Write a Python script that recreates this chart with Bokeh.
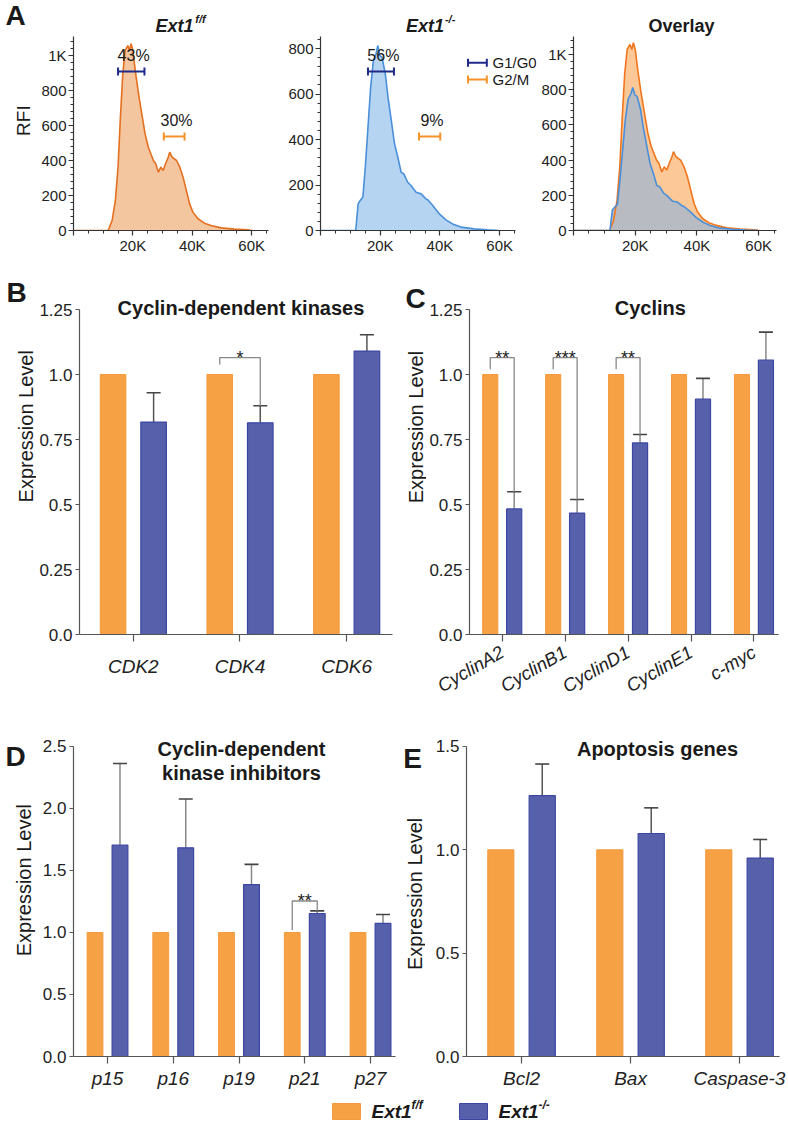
import math
from bokeh.plotting import figure
from bokeh.models import Range1d, FixedTicker, Label, Whisker, TeeHead, ColumnDataSource
from bokeh.layouts import column, row
from bokeh.embed import file_html
from bokeh.resources import INLINE
from bokeh.core.properties import value

FONT = "Liberation Sans"

# ---------------- data ----------------
# Panel A: DNA content histograms (x in thousands, y = RFI)
ff_dna_k = [0, 11.7, 13.0, 14.1, 15.0, 15.8, 16.6, 17.4, 18.3, 18.9, 19.4, 20.0, 20.8, 21.9,
            23.0, 24.1, 25.2, 26.9, 27.7, 28.6, 29.4, 30.2, 31.0, 31.9, 32.4, 33.2, 34.7,
            35.8, 36.9, 38.0, 39.1, 40.2, 41.9, 44.1, 46.3, 49.7, 54.1, 58.6, 60.2]
ff_rfi = [0, 0, 57, 171, 362, 648, 895, 1029, 1057, 1029, 1067, 1029, 914, 781,
          667, 552, 476, 400, 381, 333, 362, 343, 381, 419, 448, 419, 400,
          362, 305, 229, 152, 105, 67, 42, 29, 15, 8, 4, 0]
ko_dna_k = [0, 11.8, 12.6, 13.3, 14.2, 15.0, 15.9, 16.8, 17.7, 18.6, 19.2, 19.9, 20.6, 21.7,
            22.6, 23.7, 24.8, 25.9, 27.0, 27.9, 29.2, 30.3, 32.0, 33.7, 35.3, 35.9, 37.6,
            39.8, 42.0, 44.2, 47.0, 51.4, 55.9, 59.8]
ko_rfi = [0, 0, 117, 132, 147, 278, 454, 630, 747, 777, 813, 769, 762, 689,
          586, 484, 381, 322, 256, 249, 212, 198, 168, 161, 139, 135, 110,
          73, 47, 29, 15, 7, 3, 0]

phase_names = ["G1/G0", "G2/M"]
ff_gate_pct = ["43%", "30%"]
ff_gate_x0_k = [15.0, 30.4]
ff_gate_x1_k = [23.9, 37.4]
ff_gate_y = [909, 537]
ko_gate_pct = ["56%", "9%"]
ko_gate_x0_k = [15.9, 33.0]
ko_gate_x1_k = [24.6, 40.1]
ko_gate_y = [699, 413]

# Panel B
cdk_genes = ["CDK2", "CDK4", "CDK6"]
cdk_ff = [1.0, 1.0, 1.0]
cdk_ko = [0.817, 0.814, 1.090]
cdk_ko_err = [0.113, 0.066, 0.063]
cdk_sig_idx = [1]
cdk_sig_text = ["*"]
cdk_sig_level = [1.065]
cdk_sig_left = [1.038]

# Panel C
cyc_genes = ["CyclinA2", "CyclinB1", "CyclinD1", "CyclinE1", "c-myc"]
cyc_ff = [1.0, 1.0, 1.0, 1.0, 1.0]
cyc_ko = [0.483, 0.467, 0.737, 0.905, 1.055]
cyc_ko_err = [0.066, 0.052, 0.032, 0.080, 0.108]
cyc_sig_idx = [0, 1, 2]
cyc_sig_text = ["**", "***", "**"]
cyc_sig_level = [1.065, 1.065, 1.065]
cyc_sig_left = [1.02, 1.02, 1.02]

# Panel D
cki_genes = ["p15", "p16", "p19", "p21", "p27"]
cki_ff = [1.0, 1.0, 1.0, 1.0, 1.0]
cki_ko = [1.704, 1.683, 1.386, 1.153, 1.073]
cki_ko_err = [0.658, 0.393, 0.163, 0.021, 0.072]
cki_sig_idx = [3]
cki_sig_text = ["**"]
cki_sig_level = [1.254]
cki_sig_left = [1.02]

# Panel E
apo_genes = ["Bcl2", "Bax", "Caspase-3"]
apo_ff = [1.0, 1.0, 1.0]
apo_ko = [1.262, 1.079, 0.960]
apo_ko_err = [0.153, 0.124, 0.090]

# ---------------- style ----------------
ORANGE = "#F7A145"
ORANGE_EDGE = "#F39A3C"
BLUE = "#5760AB"
BLUE_EDGE = "#3C47A3"
TXT = "#1a1a1a"
AX = "#555555"
OFF = 0.19
BW = 0.24


def geom(l, r, t, b, xr, yr):
    return dict(l=l, r=r, t=t, b=b, x0=xr[0], x1=xr[1], y0=yr[0], y1=yr[1])


def to_data(g, xref, yref):
    x = g["x0"] + (xref - g["l"]) / (g["r"] - g["l"]) * (g["x1"] - g["x0"])
    y = g["y0"] + (g["b"] - yref) / (g["b"] - g["t"]) * (g["y1"] - g["y0"])
    return x, y


def base_fig(g, fx0, fx1, ry0, ry1, axes=True):
    kw = {}
    if not axes:
        kw = dict(x_axis_location=None, y_axis_location=None)
    p = figure(width=fx1 - fx0, height=ry1 - ry0,
               x_range=Range1d(g["x0"], g["x1"]), y_range=Range1d(g["y0"], g["y1"]),
               min_border_left=g["l"] - fx0, min_border_right=fx1 - g["r"],
               min_border_top=g["t"] - ry0, min_border_bottom=ry1 - g["b"],
               output_backend="svg", toolbar_location=None, title=None, **kw)
    p.xgrid.visible = False
    p.ygrid.visible = False
    p.outline_line_color = None
    p.border_fill_color = "white"
    p.background_fill_color = "white"
    return p


def gutter(fx0, fx1, ry0, ry1):
    g = geom(fx0, fx1, ry0, ry1, (fx0, fx1), (ry1, ry0))
    return base_fig(g, fx0, fx1, ry0, ry1, axes=False), g


def put(p, g, xr, yr, text, size, style="normal", align="center", baseline="middle",
        angle=0.0, color=TXT):
    x, y = to_data(g, xr, yr)
    p.add_layout(Label(x=x, y=y, text=text, text_font=FONT, text_font_size=f"{size}px",
                       text_font_style=style, text_align=align, text_baseline=baseline,
                       angle=angle, text_color=color))


def style_axis(ax, ticks, labels, size, minor=None, style="normal", tick_out=5, standoff=4,
               color=AX, bounds=None):
    ax.ticker = FixedTicker(ticks=ticks, minor_ticks=minor or [])
    ax.major_label_overrides = {t: l for t, l in zip(ticks, labels)}
    if bounds is not None:
        ax.bounds = bounds
    ax.axis_line_color = color
    ax.axis_line_width = 1.2
    ax.major_tick_line_color = color
    ax.major_tick_line_width = 1.2
    ax.minor_tick_line_color = color
    ax.major_tick_in = 0
    ax.major_tick_out = tick_out
    ax.minor_tick_in = 0
    ax.minor_tick_out = 3
    ax.major_label_text_font = FONT
    ax.major_label_text_font_size = f"{size}px"
    ax.major_label_text_font_style = style
    ax.major_label_text_color = "#222222"
    ax.major_label_standoff = standoff


# ---------------- Panel A ----------------
ROW_A = (0, 270)
# frames extend to the top of the row so in-frame titles are not clipped;
# axis bounds keep the drawn axes at the reference extent
gA1 = geom(71, 268, 0, 230, (0, 65667), (0, 230 / 0.175))
gA2 = geom(319, 536, 0, 230, (0, 217 / 3 * 1000), (0, 230 / 0.2275))
gA3 = geom(571, 776, 0, 230, (0, 205 / 3.117 * 1000), (0, 230 / 0.176))

ff_x = [v * 1000 for v in ff_dna_k]
ko_x = [v * 1000 for v in ko_dna_k]

x_major = [0, 20000, 40000, 60000]
x_lab = ["", "20K", "40K", "60K"]
x_minor = [k * 5000 for k in range(14) if (k * 5000) % 20000]


def hist_axes(p, ymax, ytop, xtop):
    yt = list(range(0, ymax + 1, 200))
    yl = ["1K" if t == 1000 else str(t) for t in yt]
    ym = [k * 40 for k in range(0, int(ytop) // 40 + 1) if (k * 40) % 200]
    style_axis(p.xaxis[0], x_major, x_lab, 15, minor=x_minor, tick_out=5, standoff=1,
               color="#333", bounds=(0, xtop))
    style_axis(p.yaxis[0], yt, yl, 15, minor=ym, tick_out=5, standoff=2, color="#333",
               bounds=(0, ytop))


def gate_whiskers(p, x0k, x1k, ys, colors):
    for i, c in enumerate(colors):
        s = ColumnDataSource(dict(x0=[x0k[i] * 1000], x1=[x1k[i] * 1000], y=[ys[i]]))
        p.add_layout(Whisker(source=s, base="y", lower="x0", upper="x1", dimension="width",
                             line_color=c, line_width=2,
                             lower_head=TeeHead(size=8, line_color=c, line_width=2),
                             upper_head=TeeHead(size=8, line_color=c, line_width=2),
                             level="overlay"))


G_NAVY = "#1F2A8A"
G_ORANGE = "#F5922A"

ga, gga = gutter(0, 38, *ROW_A)
put(ga, gga, 15, 18, "A", 28, "bold")
put(ga, gga, 23, 141, "RFI", 19, angle=math.pi / 2)

a1 = base_fig(gA1, 38, 285, *ROW_A)
a1.varea(x=ff_x, y1=0, y2=ff_rfi, fill_color="#F3C6A0")
a1.line(ff_x, ff_rfi, line_color="#E46F1F", line_width=1.6)
hist_axes(a1, 1000, 1108, 65667)
gate_whiskers(a1, ff_gate_x0_k, ff_gate_x1_k, ff_gate_y, [G_NAVY, G_ORANGE])
for i, t in enumerate(ff_gate_pct):
    cx = (ff_gate_x0_k[i] + ff_gate_x1_k[i]) / 2 * 1000 + 800
    a1.add_layout(Label(x=cx, y=ff_gate_y[i] + 45, text=t, text_font=FONT, text_font_size="16px",
                        text_align="center", text_baseline="bottom", text_color=TXT))
put(a1, gA1, 173, 25, "Ext1", 18, "bold italic", align="center", baseline="alphabetic")
put(a1, gA1, 194, 18, "f/f", 11, "bold italic", align="left", baseline="alphabetic")

a2 = base_fig(gA2, 285, 538, *ROW_A)
a2.varea(x=ko_x, y1=0, y2=ko_rfi, fill_color="#B5D4F1")
a2.line(ko_x, ko_rfi, line_color="#4A8FDA", line_width=1.6)
hist_axes(a2, 800, 852, 65333)
gate_whiskers(a2, ko_gate_x0_k, ko_gate_x1_k, ko_gate_y, [G_NAVY, G_ORANGE])
for i, t in enumerate(ko_gate_pct):
    cx = (ko_gate_x0_k[i] + ko_gate_x1_k[i]) / 2 * 1000 + 800
    a2.add_layout(Label(x=cx, y=ko_gate_y[i] + 35, text=t, text_font=FONT, text_font_size="16px",
                        text_align="center", text_baseline="bottom", text_color=TXT))
leg_y = [737, 664]
gate_whiskers(a2, [49.4, 49.4], [55.7, 55.7], leg_y, [G_NAVY, G_ORANGE])
for i, nm in enumerate(phase_names):
    a2.add_layout(Label(x=57600, y=leg_y[i], text=nm, text_font=FONT, text_font_size="15px",
                        text_align="left", text_baseline="middle", text_color=TXT))
put(a2, gA2, 424, 25, "Ext1", 18, "bold italic", align="center", baseline="alphabetic")
put(a2, gA2, 444, 18, "-/-", 11, "bold italic", align="left", baseline="alphabetic")

a3 = base_fig(gA3, 538, 788, *ROW_A)
a3.varea(x=ff_x, y1=0, y2=ff_rfi, fill_color="#FCC898")
a3.varea(x=ko_x, y1=0, y2=ko_rfi, fill_color="#B8BBC1")
a3.line(ff_x, ff_rfi, line_color="#F0761E", line_width=1.6)
a3.line(ko_x, ko_rfi, line_color="#4A8FDA", line_width=1.6)
hist_axes(a3, 1000, 1102, 65770)
put(a3, gA3, 680, 25, "Overlay", 18, "bold", align="center", baseline="alphabetic")


# ---------------- bar panels ----------------
def bar_panel(g, fx0, fx1, ry0, ry1, genes, ff, ko, err, yticks, ylabels,
              sig_idx, sig_text, sig_level, sig_left, rotate=0.0, err_color="#555555",
              xlab_standoff=6, xlab_size=19):
    p = base_fig(g, fx0, fx1, ry0, ry1)
    idx = list(range(len(genes)))
    src = dict(x_ff=[i - OFF for i in idx], x_ko=[i + OFF for i in idx], ff=ff, ko=ko,
               top=[k + e for k, e in zip(ko, err)])
    src = ColumnDataSource(src)
    p.vbar(x="x_ff", top="ff", bottom=0, width=BW, source=src, fill_color=ORANGE,
           line_color=ORANGE_EDGE, line_width=1)
    p.vbar(x="x_ko", top="ko", bottom=0, width=BW, source=src, fill_color=BLUE,
           line_color=BLUE_EDGE, line_width=1.2)
    p.add_layout(Whisker(source=src, base="x_ko", lower="ko", upper="top", dimension="height",
                         line_color=err_color, line_width=1.5, lower_head=None,
                         upper_head=TeeHead(size=14, line_color="#444444", line_width=1.6)))
    xs, ys, tx, ty = [], [], [], []
    for j, i in enumerate(sig_idx):
        xl, xr_ = i - OFF, i + OFF
        xs.append([xl, xl, xr_, xr_])
        ys.append([sig_left[j], sig_level[j], sig_level[j], ko[i] + err[i]])
        tx.append((xl + xr_) / 2)
        ty.append(sig_level[j])
    if xs:
        p.multi_line(xs, ys, line_color="#888888", line_width=1.3)
        p.text(tx, ty, text=sig_text, text_font=value(FONT), text_font_size="18px",
               text_align="center", text_baseline="alphabetic", text_color=TXT)
    style_axis(p.xaxis[0], idx, genes, xlab_size, style="italic", tick_out=7,
               standoff=xlab_standoff)
    if rotate:
        p.xaxis[0].major_label_orientation = rotate
    style_axis(p.yaxis[0], yticks, ylabels, 17, tick_out=4, standoff=3,
               bounds=(yticks[0], yticks[-1]))
    return p


ROW_BC = (270, 712)
gB = geom(78, 392, 280, 634, (-0.505, 2.43), (0, (634 - 280) / 260))
gC = geom(467, 778, 280, 634, (-0.52, 4.39), (0, (634 - 280) / 260))
yt_bc = [0, 0.25, 0.5, 0.75, 1.0, 1.25]
yl_bc = ["0.0", "0.25", "0.5", "0.75", "1.0", "1.25"]

gb, ggb = gutter(0, 36, *ROW_BC)
put(gb, ggb, 16, 285, "B", 28, "bold")
put(gb, ggb, 25, 452, "Expression Level", 20, angle=math.pi / 2)

pb = bar_panel(gB, 36, 400, *ROW_BC, cdk_genes, cdk_ff, cdk_ko, cdk_ko_err, yt_bc, yl_bc,
               cdk_sig_idx, cdk_sig_text, cdk_sig_level, cdk_sig_left, xlab_standoff=14)
put(pb, gB, 240, 307, "Cyclin-dependent kinases", 20, "bold")

gc, ggc = gutter(400, 426, *ROW_BC)
put(gc, ggc, 415, 293, "C", 28, "bold")
put(gc, ggc, 415, 453, "Expression Level", 20, angle=math.pi / 2)

pc = bar_panel(gC, 426, 788, *ROW_BC, cyc_genes, cyc_ff, cyc_ko, cyc_ko_err, yt_bc, yl_bc,
               cyc_sig_idx, cyc_sig_text, cyc_sig_level, cyc_sig_left, rotate=math.pi / 6,
               err_color="#888888", xlab_standoff=9, xlab_size=18.5)
put(pc, gC, 649, 307, "Cyclins", 20, "bold")

ROW_DE = (712, 1091)
gD = geom(73, 395, 730, 1057, (-0.517, 4.38), (0, (1057 - 730) / 124.4))
gE = geom(466, 779, 730, 1057, (-0.505, 2.367), (0, (1057 - 730) / 207.33))

gd, ggd = gutter(0, 36, *ROW_DE)
put(gd, ggd, 15, 742, "D", 28, "bold")
put(gd, ggd, 23, 886, "Expression Level", 20, angle=math.pi / 2)

pd = bar_panel(gD, 36, 400, *ROW_DE, cki_genes, cki_ff, cki_ko, cki_ko_err,
               [0, 0.5, 1.0, 1.5, 2.0, 2.5], ["0.0", "0.5", "1.0", "1.5", "2.0", "2.5"],
               cki_sig_idx, cki_sig_text, cki_sig_level, cki_sig_left, err_color="#888888",
               xlab_standoff=4)
put(pd, gD, 241, 749, "Cyclin-dependent", 20, "bold")
put(pd, gD, 241, 773, "kinase inhibitors", 20, "bold")

ge, gge = gutter(400, 425, *ROW_DE)
put(ge, gge, 412, 744, "E", 28, "bold")
put(ge, gge, 414, 902, "Expression Level", 20, angle=math.pi / 2)

pe = bar_panel(gE, 425, 788, *ROW_DE, apo_genes, apo_ff, apo_ko, apo_ko_err,
               [0, 0.5, 1.0, 1.5], ["0.0", "0.5", "1.0", "1.5"],
               [], [], [], [], xlab_standoff=4)
put(pe, gE, 657, 749, "Apoptosis genes", 20, "bold")

# ---------------- legend strip ----------------
pl, gL = gutter(0, 788, 1091, 1125)
leg_names = ["Ext1", "Ext1"]
leg_sup = ["f/f", "-/-"]
leg_colors = [ORANGE, BLUE]
leg_edges = [ORANGE_EDGE, BLUE_EDGE]
leg_left = [332, 459]
pl.quad(left=leg_left, right=[v + 28 for v in leg_left], top=[1103, 1103], bottom=[1119, 1119],
        fill_color=leg_colors, line_color=leg_edges)
for i in range(2):
    put(pl, gL, leg_left[i] + 39, 1111, leg_names[i], 19, "bold italic", align="left",
        baseline="middle")
    put(pl, gL, leg_left[i] + 79, 1104, leg_sup[i], 12, "bold italic", align="left",
        baseline="middle")

layout = column(row(ga, a1, a2, a3), row(gb, pb, gc, pc), row(gd, pd, ge, pe), pl)
open("out.html", "w").write(file_html(layout, INLINE))
